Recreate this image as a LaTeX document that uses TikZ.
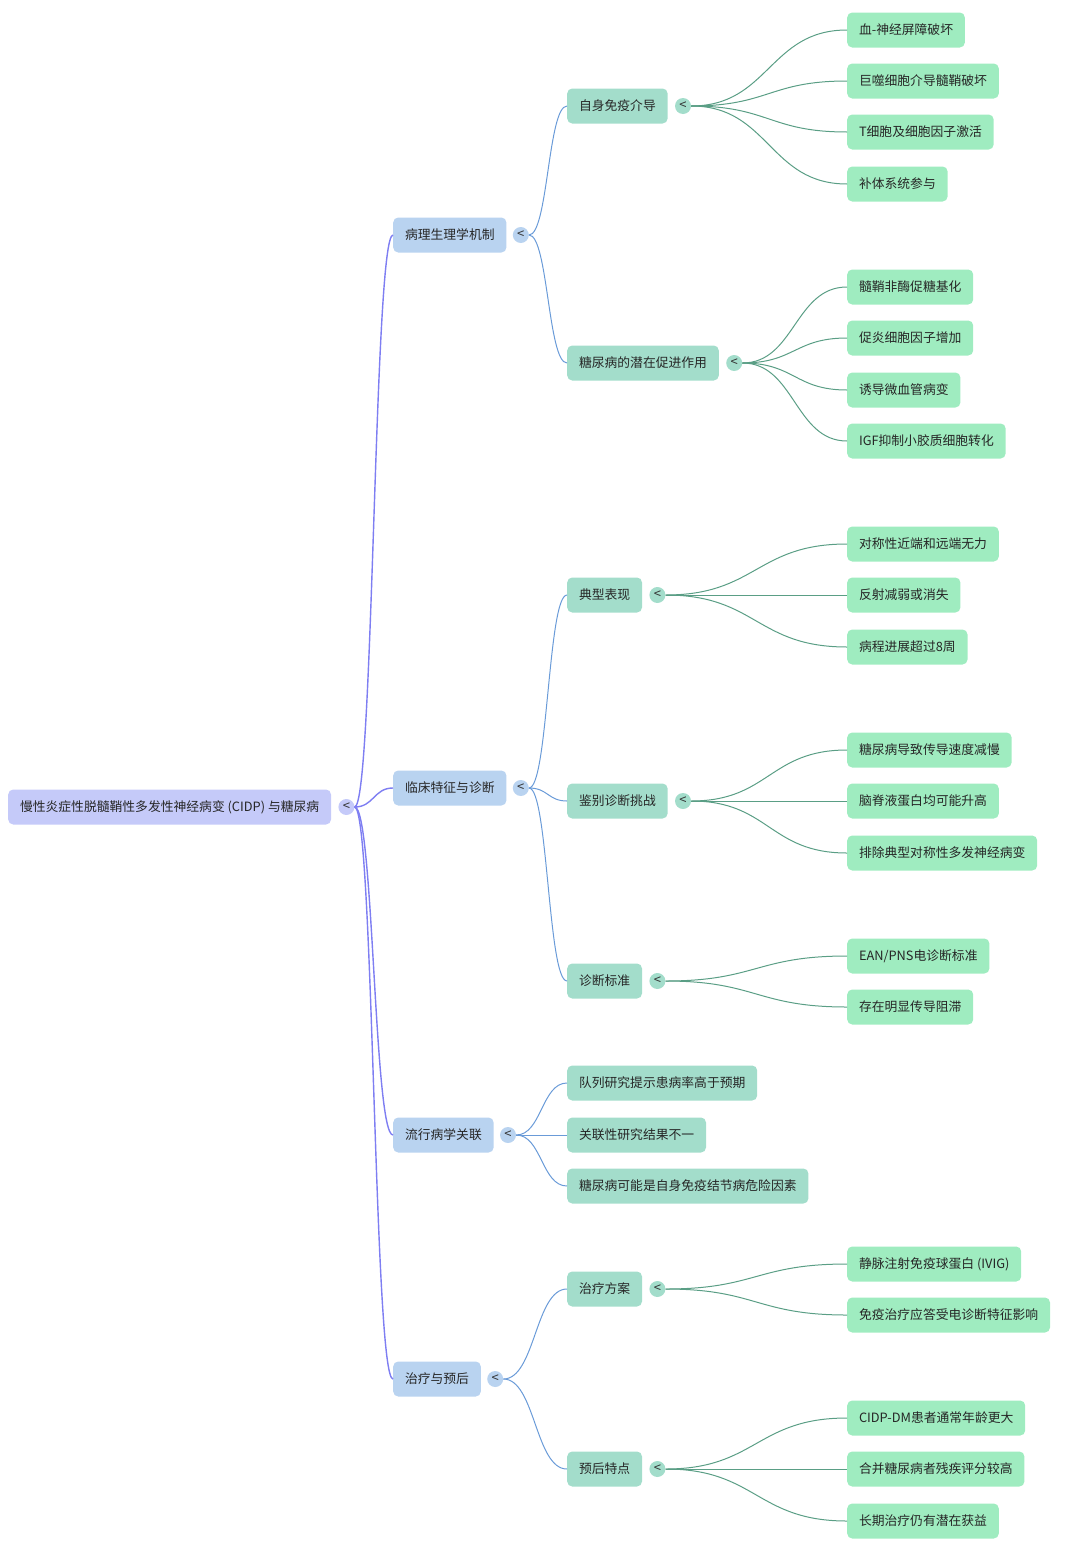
\documentclass[tikz,border=0pt]{standalone}
\usepackage{fontspec}
\setmainfont{Noto Sans CJK SC}
\usetikzlibrary{positioning,calc}

\definecolor{rootfill}{HTML}{C5CAF9}
\definecolor{mainfill}{HTML}{B9D3F0}
\definecolor{subfill}{HTML}{A3DDCB}
\definecolor{leaffill}{HTML}{9FECC0}
\definecolor{rootline}{HTML}{7E7EF2}
\definecolor{mainline}{HTML}{6A9BD8}
\definecolor{subline}{HTML}{5A9E85}

\begin{document}
\begin{tikzpicture}[x=1pt,y=-1pt,
    box/.style={rounded corners=5pt,anchor=west,minimum height=35pt,inner xsep=11.8pt,
        font=\fontsize{12.8}{15}\selectfont,text=black!85},
    rootbox/.style={box,fill=rootfill},
    mainbox/.style={box,fill=mainfill},
    subbox/.style={box,fill=subfill},
    leafbox/.style={box,fill=leaffill},
    fold/.style={circle,inner sep=0pt,minimum size=16pt,font=\fontsize{13}{13}\selectfont,text=black!80},
    link/.style={to path={let \p1=(\tikztostart), \p2=(\tikztotarget) in
        .. controls ({0.5*(\x1+\x2)},\y1) and ({0.5*(\x1+\x2)},\y2) .. (\tikztotarget)}}]

        \useasboundingbox (0,0) rectangle (1080,1550);

        % nodes
        \node [rootbox] (root) at (8, 807) {慢性炎症性脱髓鞘性多发性神经病变 (CIDP) 与糖尿病};
        \node [fold,fill=rootfill,right=7pt of root] (f0) {<};

        \node [mainbox] (b1) at (393, 235) {病理生理学机制};
        \node [mainbox] (b2) at (393, 788) {临床特征与诊断};
        \node [mainbox] (b3) at (393, 1135) {流行病学关联};
        \node [mainbox] (b4) at (393, 1379) {治疗与预后};
        \node [fold,fill=mainfill,right=6pt of b1] (fb1) {<};
        \node [fold,fill=mainfill,right=6pt of b2] (fb2) {<};
        \node [fold,fill=mainfill,right=6pt of b3] (fb3) {<};
        \node [fold,fill=mainfill,right=6pt of b4] (fb4) {<};

        \node [subbox] (t1) at (567, 106) {自身免疫介导};
        \node [subbox] (t2) at (567, 363) {糖尿病的潜在促进作用};
        \node [subbox] (t3) at (567, 595) {典型表现};
        \node [subbox] (t4) at (567, 801) {鉴别诊断挑战};
        \node [subbox] (t5) at (567, 981) {诊断标准};
        \node [subbox] (t6) at (567, 1083) {队列研究提示患病率高于预期};
        \node [subbox] (t7) at (567, 1135) {关联性研究结果不一};
        \node [subbox] (t8) at (567, 1186) {糖尿病可能是自身免疫结节病危险因素};
        \node [subbox] (t9) at (567, 1289) {治疗方案};
        \node [subbox] (t10) at (567, 1469) {预后特点};
        \node [fold,fill=subfill,right=7pt of t1] (ft1) {<};
        \node [fold,fill=subfill,right=7pt of t2] (ft2) {<};
        \node [fold,fill=subfill,right=7pt of t3] (ft3) {<};
        \node [fold,fill=subfill,right=7pt of t4] (ft4) {<};
        \node [fold,fill=subfill,right=7pt of t5] (ft5) {<};
        \node [fold,fill=subfill,right=7pt of t9] (ft9) {<};
        \node [fold,fill=subfill,right=7pt of t10] (ft10) {<};

        \node [leafbox] (l1) at (847, 30) {血-神经屏障破坏};
        \node [leafbox] (l2) at (847, 81) {巨噬细胞介导髓鞘破坏};
        \node [leafbox] (l3) at (847, 132) {T细胞及细胞因子激活};
        \node [leafbox] (l4) at (847, 184) {补体系统参与};
        \node [leafbox] (l5) at (847, 287) {髓鞘非酶促糖基化};
        \node [leafbox] (l6) at (847, 338) {促炎细胞因子增加};
        \node [leafbox] (l7) at (847, 390) {诱导微血管病变};
        \node [leafbox] (l8) at (847, 441) {IGF抑制小胶质细胞转化};
        \node [leafbox] (l9) at (847, 544) {对称性近端和远端无力};
        \node [leafbox] (l10) at (847, 595) {反射减弱或消失};
        \node [leafbox] (l11) at (847, 647) {病程进展超过8周};
        \node [leafbox] (l12) at (847, 750) {糖尿病导致传导速度减慢};
        \node [leafbox] (l13) at (847, 801) {脑脊液蛋白均可能升高};
        \node [leafbox] (l14) at (847, 853) {排除典型对称性多发神经病变};
        \node [leafbox] (l15) at (847, 956) {EAN/PNS电诊断标准};
        \node [leafbox] (l16) at (847, 1007) {存在明显传导阻滞};
        \node [leafbox] (l17) at (847, 1264) {静脉注射免疫球蛋白 (IVIG)};
        \node [leafbox] (l18) at (847, 1315) {免疫治疗应答受电诊断特征影响};
        \node [leafbox] (l19) at (847, 1418) {CIDP-DM患者通常年龄更大};
        \node [leafbox] (l20) at (847, 1469) {合并糖尿病者残疾评分较高};
        \node [leafbox] (l21) at (847, 1521) {长期治疗仍有潜在获益};

        % links
        % root to branches
        \foreach \b in {b1,b2,b3,b4}
            \draw [rootline,line width=1.4pt] (f0.east) to[link] (\b.west);

        % branches to topics
        \draw [mainline,line width=1pt] (fb1.east) to[link] (t1.west);
        \draw [mainline,line width=1pt] (fb1.east) to[link] (t2.west);
        \draw [mainline,line width=1pt] (fb2.east) to[link] (t3.west);
        \draw [mainline,line width=1pt] (fb2.east) to[link] (t4.west);
        \draw [mainline,line width=1pt] (fb2.east) to[link] (t5.west);
        \draw [mainline,line width=1pt] (fb3.east) to[link] (t6.west);
        \draw [mainline,line width=1pt] (fb3.east) to[link] (t7.west);
        \draw [mainline,line width=1pt] (fb3.east) to[link] (t8.west);
        \draw [mainline,line width=1pt] (fb4.east) to[link] (t9.west);
        \draw [mainline,line width=1pt] (fb4.east) to[link] (t10.west);

        % topics to leaves
        \foreach \l in {l1,l2,l3,l4}
            \draw [subline,line width=1pt] (ft1.east) to[link] (\l.west);
        \foreach \l in {l5,l6,l7,l8}
            \draw [subline,line width=1pt] (ft2.east) to[link] (\l.west);
        \foreach \l in {l9,l10,l11}
            \draw [subline,line width=1pt] (ft3.east) to[link] (\l.west);
        \foreach \l in {l12,l13,l14}
            \draw [subline,line width=1pt] (ft4.east) to[link] (\l.west);
        \foreach \l in {l15,l16}
            \draw [subline,line width=1pt] (ft5.east) to[link] (\l.west);
        \foreach \l in {l17,l18}
            \draw [subline,line width=1pt] (ft9.east) to[link] (\l.west);
        \foreach \l in {l19,l20,l21}
            \draw [subline,line width=1pt] (ft10.east) to[link] (\l.west);
    \end{tikzpicture}
\end{document}
